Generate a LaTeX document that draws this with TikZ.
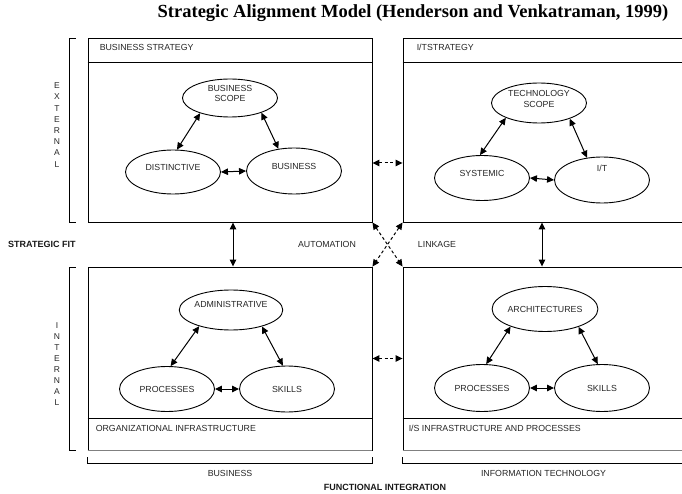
\documentclass[tikz,border=0pt]{standalone}
\usepackage{fontspec}
\setsansfont{Liberation Sans}
\newfontfamily\titlefont{Liberation Serif}
\usetikzlibrary{arrows.meta, positioning, shapes}

\begin{document}
\begin{tikzpicture}[x=1pt, y=-1pt]
\tikzstyle{quad}=[rectangle, draw=black, line width=0.9pt, inner sep=0pt]
\tikzstyle{oval}=[ellipse, draw=black, line width=0.9pt, minimum width=95pt, minimum height=45pt, inner sep=0pt, align=center, text=black!85, font=\sffamily\fontsize{8.8}{10.2}\selectfont]
\tikzstyle{lbl}=[inner sep=0pt, text=black!85, font=\sffamily\fontsize{8.8}{10}\selectfont]
\tikzstyle{bold}=[inner sep=0pt, text=black!90, font=\sffamily\bfseries\fontsize{9}{10}\selectfont]
\tikzstyle{connect}=[draw, line width=1pt, {Triangle[length=7pt,width=6.5pt]}-{Triangle[length=7pt,width=6.5pt]}]
\tikzstyle{dashconnect}=[connect, dash pattern=on 3pt off 2.5pt]
\useasboundingbox (0,0) rectangle (682,494);

\node[inner sep=0pt, font=\titlefont\bfseries\fontsize{18.5}{20}\selectfont] (title) at (413,13) {Strategic Alignment Model (Henderson and Venkatraman, 1999)};

% the four domains
\node[quad, minimum width=284pt, minimum height=184pt] (bs) at (230,130) {};
\node[quad, minimum width=281pt, minimum height=184pt] (its) at (543.5,130) {};
\node[quad, minimum width=284pt, minimum height=183pt] (oi) at (230,358.5) {};
\node[quad, minimum width=281pt, minimum height=183pt] (isi) at (543.5,358.5) {};
\draw[line width=0.9pt] ([yshift=-25pt]bs.north west) -- ([yshift=-25pt]bs.north east);
\draw[line width=0.9pt] ([yshift=-25pt]its.north west) -- ([yshift=-25pt]its.north east);
\draw[line width=0.9pt] ([yshift=32pt]oi.south west) -- ([yshift=32pt]oi.south east);
\draw[line width=0.9pt] ([yshift=32pt]isi.south west) -- ([yshift=32pt]isi.south east);
\draw[line width=0.9pt, black!50] (oi.south west) -- (oi.south east);
\draw[line width=0.9pt, black!50] (isi.south west) -- (isi.south east);
\node[lbl, anchor=west] (bsl) at ([xshift=12pt,yshift=-10pt]bs.north west) {BUSINESS STRATEGY};
\node[lbl, anchor=west] (itsl) at ([xshift=14pt,yshift=-10pt]its.north west) {I/TSTRATEGY};
\node[lbl, anchor=west] (oil) at ([xshift=8pt,yshift=22pt]oi.south west) {ORGANIZATIONAL INFRASTRUCTURE};
\node[lbl, anchor=west] (isil) at ([xshift=6pt,yshift=22pt]isi.south west) {I/S INFRASTRUCTURE AND PROCESSES};

\node[oval, minimum height=38pt, text depth=9pt] (bscope) at (230,98) {BUSINESS\\SCOPE};
\node[oval, minimum height=44pt, text depth=9pt] (dist) at (173,172) {DISTINCTIVE};
\node[oval, minimum height=46pt, text depth=9pt] (bus) at (294,171) {BUSINESS};
\node[oval, minimum height=40pt, text depth=8pt] (tscope) at (539,103) {TECHNOLOGY\\SCOPE};
\node[oval, text depth=9pt] (syst) at (482,178) {SYSTEMIC};
\node[oval, minimum height=46pt, text depth=24pt] (it) at (602,180) {I/T};
\node[oval, minimum height=40pt, text depth=11pt] (admin) at (231,310) {ADMINISTRATIVE};
\node[oval] (proc) at (167,389) {PROCESSES};
\node[oval, minimum height=46pt] (skill) at (287,389) {SKILLS};
\node[oval] (arch) at (545,309) {ARCHITECTURES};
\node[oval, minimum height=47pt] (isproc) at (482,388) {PROCESSES};
\node[oval, minimum height=47pt] (isskill) at (602,388) {SKILLS};

\path
  (bscope.207) edge [connect] (dist.80)
  (bscope.335) edge [connect] (bus.125)
  (dist.east) edge [connect] (bus.west)
  (tscope.204) edge [connect] (syst.95)
  (tscope.333) edge [connect] (it.124)
  (syst.east) edge [connect] (it.west)
  (admin.207) edge [connect] (proc.81)
  (admin.332) edge [connect] (skill.100)
  (proc.east) edge [connect] (skill.west)
  (arch.207) edge [connect] (isproc.80)
  (arch.332) edge [connect] (isskill.100)
  (isproc.east) edge [connect] (isskill.west)
  ([xshift=3pt]bs.south) edge [connect] ([xshift=3pt]oi.north)
  ([xshift=-1.5pt]its.south) edge [connect] ([xshift=-1.5pt]isi.north)
  ([yshift=-33pt]bs.east) edge [dashconnect] ([yshift=-33pt]its.west)
  (oi.east) edge [dashconnect] (isi.west)
  (bs.south east) edge [dashconnect] (isi.north west)
  (its.south west) edge [dashconnect] (oi.north east)
;

\node[lbl] (auto) at (327,244) {AUTOMATION};
\node[lbl] (link) at (437,244) {LINKAGE};
\node[bold, anchor=west] (fit) at (8,244) {STRATEGIC FIT};

% brackets
\draw[line width=0.9pt] ([xshift=-12pt,yshift=-1pt]bs.north west) -- ++(-6,0) |- ([xshift=-12pt]bs.south west);
\draw[line width=0.9pt] ([xshift=-12pt,yshift=-1pt]oi.north west) -- ++(-6,0) |- ([xshift=-12pt]oi.south west);
\draw[line width=0.9pt] ([yshift=-7pt]oi.south west) -- ([yshift=-13pt]oi.south west) -- ([yshift=-13pt]oi.south east) -- ([yshift=-7pt]oi.south east);
\draw[line width=0.9pt] ([yshift=-7pt]isi.south west) -- ([yshift=-13pt]isi.south west) -- ([yshift=-13pt]isi.south east);
\node[lbl, align=center, font=\sffamily\fontsize{8.5}{11.2}\selectfont] (ext) at (57,125) {E\\X\\T\\E\\R\\N\\A\\L};
\node[lbl, align=center, font=\sffamily\fontsize{8.5}{11}\selectfont] (int) at (57,364) {I\\N\\T\\E\\R\\N\\A\\L};
\node[lbl] (busl) [below=20pt of oi.south] {BUSINESS};
\node[lbl] (itl) [below=20pt of isi.south] {INFORMATION TECHNOLOGY};
\node[bold] (func) at (385,487) {FUNCTIONAL INTEGRATION};
\end{tikzpicture}
\end{document}
